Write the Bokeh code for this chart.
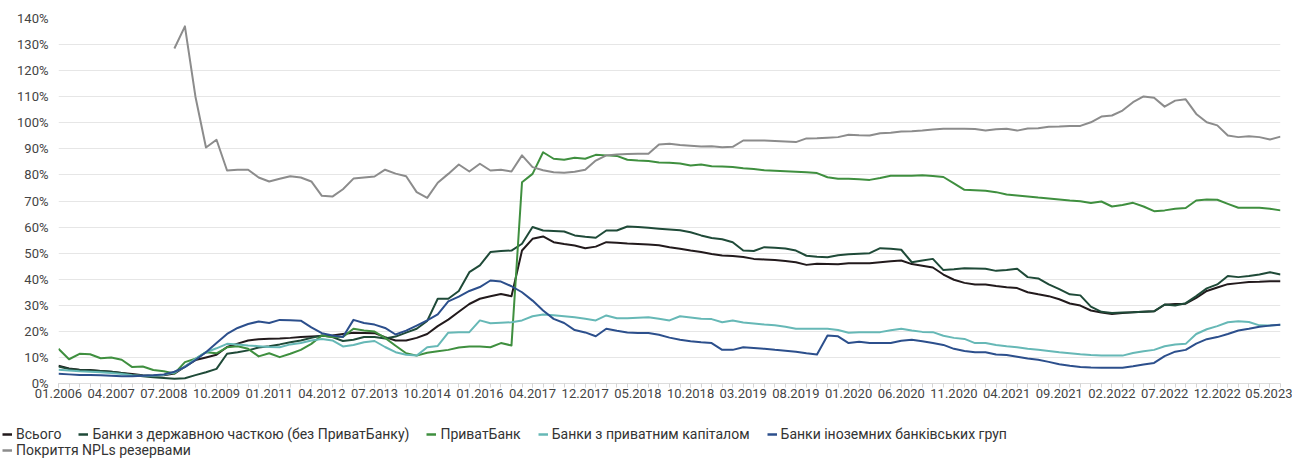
from bokeh.plotting import figure
from bokeh.layouts import column
from bokeh.models import (Range1d, FixedTicker, PrintfTickFormatter, Legend, LegendItem,
                          ColumnDataSource)
from bokeh.embed import file_html
from bokeh.resources import INLINE

# ---- categories (quarterly up to 04.2017, then mixed / monthly from 12.2017) ----
dates = []
for y in range(2006, 2017):
    for m in (1, 4, 7, 10):
        dates.append(f"{m:02d}.{y}")
dates += ["01.2017", "04.2017", "07.2017", "09.2017", "10.2017", "11.2017"]
for y in range(2017, 2024):
    for m in range(1, 13):
        if (y == 2017 and m < 12) or (y == 2023 and m > 6):
            continue
        dates.append(f"{m:02d}.{y}")

tick_labels = ["01.2006", "04.2007", "07.2008", "10.2009", "01.2011", "04.2012", "07.2013",
               "10.2014", "01.2016", "04.2017", "12.2017", "05.2018", "10.2018", "03.2019",
               "08.2019", "01.2020", "06.2020", "11.2020", "04.2021", "09.2021", "02.2022",
               "07.2022", "12.2022", "05.2023"]

# ---- series values (%) ----
total = [6.8, 5.8, 5.3, 5.2, 4.8, 4.5, 4.0, 3.6, 3.2, 3.0, 3.2, 3.8, 6.5, 9.0, 10.0, 11.0,
         14.0, 15.3, 16.5, 17.0, 17.2, 17.3, 17.5, 17.8, 18.0, 18.2, 18.4, 19.0, 19.5, 19.4,
         19.3, 17.8, 16.5, 16.5, 17.5, 19.0, 22.0, 24.5, 27.5, 30.5, 32.5, 33.5, 34.3, 33.5,
         51.0, 55.5, 56.4, 54.2, 53.5, 52.9, 51.9, 52.5, 54.2, 54.0, 53.7, 53.5, 53.3, 53.0,
         52.3, 51.7, 51.0, 50.4, 49.7, 49.1, 48.9, 48.5, 47.8, 47.6, 47.4, 47.0, 46.5, 45.5,
         45.9, 45.8, 45.7, 46.1, 46.1, 46.1, 46.5, 46.9, 47.2, 45.8, 45.2, 44.5, 41.8, 39.8,
         38.6, 38.0, 38.0, 37.4, 36.9, 36.6, 35.0, 34.2, 33.5, 32.3, 30.7, 29.9, 28.0, 27.2,
         26.7, 27.0, 27.3, 27.5, 27.7, 30.2, 30.5, 30.6, 32.8, 35.5, 36.8, 38.1, 38.5, 38.9,
         39.0, 39.2, 39.2]

state = [6.5, 5.6, 5.2, 5.0, 4.8, 4.5, 4.0, 3.3, 2.8, 2.4, 2.1, 1.8, 2.0, 3.2, 4.3, 5.6,
         11.4, 12.0, 12.7, 13.8, 14.3, 15.0, 15.8, 16.5, 17.5, 18.4, 17.8, 16.3, 16.8, 17.8,
         17.8, 17.3, 18.0, 19.5, 21.0, 24.0, 32.5, 32.5, 35.5, 42.7, 45.3, 50.4, 50.8, 51.0,
         53.6, 60.0, 58.7, 58.5, 58.3, 56.8, 56.3, 55.9, 58.7, 58.7, 60.2, 60.0, 59.7, 59.4,
         59.1, 58.8, 58.0, 56.8, 55.8, 55.3, 54.2, 51.0, 50.8, 52.3, 52.1, 51.8, 51.0, 49.0,
         48.6, 48.4, 49.2, 49.6, 49.8, 50.0, 51.9, 51.7, 51.3, 46.5, 47.2, 47.8, 43.5, 43.8,
         44.2, 44.1, 44.0, 43.2, 43.5, 44.0, 40.8, 40.3, 38.0, 36.2, 34.2, 33.8, 29.5, 27.5,
         27.0, 27.2, 27.3, 27.5, 27.7, 30.3, 29.9, 30.8, 33.5, 36.5, 38.0, 41.2, 40.8, 41.2,
         41.8, 42.7, 41.8]

privat = [13.3, 9.3, 11.4, 11.2, 9.7, 10.0, 9.1, 6.3, 6.5, 5.2, 4.7, 3.8, 8.2, 9.5, 12.0, 11.6,
          13.9, 14.3, 13.3, 10.4, 11.6, 10.1, 11.4, 12.9, 15.2, 18.4, 17.8, 17.9, 21.0, 20.3,
          19.9, 17.5, 14.5, 11.6, 10.7, 11.8, 12.4, 12.9, 13.8, 14.2, 14.2, 13.9, 15.5, 14.6,
          77.2, 80.4, 88.7, 86.2, 85.8, 86.6, 86.2, 87.7, 87.5, 87.3, 85.8, 85.5, 85.3, 84.8,
          84.7, 84.4, 83.6, 84.0, 83.3, 83.2, 83.0, 82.6, 82.3, 81.8, 81.6, 81.4, 81.2, 81.0,
          80.7, 79.1, 78.5, 78.5, 78.3, 78.1, 78.8, 79.7, 79.7, 79.7, 79.9, 79.6, 79.2, 76.8,
          74.3, 74.1, 73.9, 73.4, 72.5, 72.1, 71.7, 71.3, 71.0, 70.6, 70.2, 69.9, 69.2, 69.8,
          67.9, 68.5, 69.3, 67.9, 66.1, 66.4, 67.0, 67.3, 70.2, 70.6, 70.5, 68.9, 67.4, 67.4,
          67.4, 67.0, 66.4]

private = [5.3, 5.0, 4.7, 4.5, 4.3, 4.0, 3.6, 3.2, 3.0, 3.0, 3.3, 4.2, 6.5, 9.5, 12.0, 13.5,
           15.2, 15.0, 14.6, 14.3, 14.0, 13.9, 15.0, 15.5, 16.5, 17.1, 16.5, 14.2, 14.8, 15.8,
           16.3, 14.0, 12.0, 11.0, 10.7, 13.9, 14.4, 19.5, 19.7, 19.7, 24.2, 23.1, 23.3, 23.5,
           24.2, 25.8, 26.5, 26.2, 25.8, 25.4, 24.8, 24.2, 26.1, 25.0, 25.0, 25.2, 25.4, 24.8,
           24.2, 25.8, 25.3, 24.8, 24.7, 23.5, 24.2, 23.4, 23.0, 22.6, 22.3, 21.8, 21.0, 21.0,
           21.0, 21.0, 20.5, 19.5, 19.7, 19.7, 19.7, 20.4, 21.0, 20.3, 19.8, 19.7, 18.3, 17.5,
           17.1, 15.5, 15.5, 14.8, 14.3, 13.9, 13.3, 12.9, 12.5, 12.0, 11.6, 11.2, 10.9, 10.7,
           10.7, 10.7, 11.7, 12.4, 12.9, 14.3, 15.0, 15.2, 19.0, 20.8, 22.0, 23.5, 23.9, 23.6,
           22.3, 22.2, 22.5]

foreign = [3.7, 3.5, 3.3, 3.3, 3.2, 3.0, 2.8, 2.8, 3.0, 3.2, 3.5, 4.5, 6.3, 9.0, 12.0, 15.5,
           19.0, 21.3, 22.8, 23.8, 23.2, 24.4, 24.3, 24.1, 21.5, 19.3, 18.4, 17.8, 24.4, 23.2,
           22.6, 21.3, 18.8, 20.3, 22.2, 24.2, 26.5, 31.5, 33.3, 35.5, 37.0, 39.5, 39.1, 37.3,
           35.0, 31.8, 28.0, 24.8, 23.2, 20.5, 19.6, 18.1, 21.0, 20.2, 19.6, 19.4, 19.4, 18.7,
           17.6, 16.8, 16.2, 15.8, 15.5, 12.9, 12.9, 13.9, 13.6, 13.3, 12.9, 12.6, 12.2, 11.6,
           11.1, 18.4, 18.1, 15.5, 16.0, 15.5, 15.5, 15.5, 16.4, 16.8, 16.2, 15.5, 14.8, 13.3,
           12.5, 12.0, 12.0, 11.1, 10.9, 10.3, 9.6, 9.1, 8.3, 7.4, 6.8, 6.3, 6.1, 6.0,
           6.0, 6.0, 6.6, 7.3, 7.9, 10.5, 12.2, 12.9, 15.3, 17.0, 17.8, 19.0, 20.3, 21.0,
           21.8, 22.2, 22.5]

coverage_start = 11
coverage = [128.5, 137.0, 110.0, 90.5, 93.5, 81.7, 82.0, 82.0, 79.0, 77.5, 78.5, 79.5, 79.0,
            77.5, 72.0, 71.7, 74.5, 78.6, 79.0, 79.4, 82.0, 80.5, 79.5, 73.4, 71.2, 77.0,
            80.4, 84.0, 81.3, 84.3, 81.7, 82.0, 81.3, 87.5, 83.0, 81.8, 81.0, 80.8, 81.2,
            82.0, 85.5, 87.5, 87.8, 88.0, 88.1, 88.1, 91.7, 92.0, 91.5, 91.2, 90.9, 91.0,
            90.6, 90.8, 93.2, 93.2, 93.2, 93.0, 92.8, 92.6, 94.0, 94.1, 94.3, 94.5, 95.4,
            95.2, 95.1, 96.0, 96.2, 96.7, 96.8, 97.0, 97.4, 97.7, 97.7, 97.7, 97.6, 97.0,
            97.5, 97.7, 97.0, 97.8, 97.9, 98.5, 98.6, 98.8, 98.8, 100.2, 102.4, 102.8, 104.7,
            107.9, 110.1, 109.6, 106.2, 108.5, 109.0, 103.4, 100.2, 99.0, 95.1, 94.5, 94.8,
            94.5, 93.6, 94.7]

series_names = ["Всього", "Банки з державною часткою (без ПриватБанку)", "ПриватБанк",
                "Банки з приватним капіталом", "Банки іноземних банківських груп",
                "Покриття NPLs резервами"]
colors = ["#221a1c", "#1f4a38", "#3f8f3f", "#66b8b6", "#2c4f8c", "#8c8c8c"]

FONT = "Roboto"

x_all = list(range(len(dates)))
p = figure(width=1292, height=410, output_backend="svg", toolbar_location=None,
           x_range=Range1d(0, len(dates) - 1), y_range=Range1d(0, 140),
           min_border_left=58, min_border_right=12, min_border_top=18, min_border_bottom=27)
p.frame_align = False
p.outline_line_color = None
p.background_fill_color = "white"
p.border_fill_color = "white"

for vals, c in zip([total, state, privat, private, foreign], colors[:5]):
    src = ColumnDataSource(dict(x=x_all[:len(vals)], y=vals))
    p.line("x", "y", source=src, line_color=c, line_width=2, line_join="round")
src = ColumnDataSource(dict(x=x_all[coverage_start:coverage_start + len(coverage)], y=coverage))
p.line("x", "y", source=src, line_color=colors[5], line_width=2, line_join="round")

# axes
major = list(range(0, len(dates), 5))
p.xaxis.ticker = FixedTicker(ticks=major, minor_ticks=x_all)
p.xaxis.major_label_overrides = {i: lab for i, lab in zip(major, tick_labels)}
p.xaxis.axis_line_color = "#dddddd"
p.xaxis.major_tick_line_color = "#d5d5d5"
p.xaxis.minor_tick_line_color = "#d5d5d5"
p.xaxis.major_tick_in = 0
p.xaxis.major_tick_out = 4
p.xaxis.minor_tick_in = 0
p.xaxis.minor_tick_out = 4
p.xaxis.major_label_standoff = 1
p.xaxis.major_label_text_font = FONT
p.xaxis.major_label_text_font_size = "13px"
p.xaxis.major_label_text_color = "#444444"

p.yaxis.ticker = FixedTicker(ticks=list(range(0, 141, 10)))
p.yaxis.formatter = PrintfTickFormatter(format="%d%%")
p.yaxis.axis_line_color = None
p.yaxis.major_tick_line_color = None
p.yaxis.minor_tick_line_color = None
p.yaxis.major_label_standoff = 4
p.yaxis.major_label_text_font = FONT
p.yaxis.major_label_text_font_size = "13px"
p.yaxis.major_label_text_color = "#444444"

p.xgrid.grid_line_color = None
p.ygrid.grid_line_color = "#e6e6e6"
p.ygrid.ticker = FixedTicker(ticks=list(range(0, 141, 10)))

# ---- legend strip below the chart ----
lg = figure(width=1292, height=49, output_backend="svg", toolbar_location=None,
            x_axis_location=None, y_axis_location=None,
            x_range=Range1d(0, 1), y_range=Range1d(0, 1),
            min_border_left=0, min_border_right=0, min_border_top=0, min_border_bottom=0)
lg.frame_align = False
lg.outline_line_color = None
lg.xgrid.grid_line_color = None
lg.ygrid.grid_line_color = None
lg.background_fill_color = "white"
lg.border_fill_color = "white"

# off-screen carriers for the legend swatches
dummies = [lg.line(x=[-2, -1], y=[-2, -1], line_color=c, line_width=2.5) for c in colors]

def make_legend(items, loc):
    return Legend(items=items, location=loc, orientation="horizontal",
                  glyph_width=10, glyph_height=16, label_standoff=4, spacing=17,
                  padding=0, margin=0, border_line_color=None, background_fill_alpha=0,
                  label_text_font=FONT, label_text_font_size="14px",
                  label_text_color="#333333", label_height=16)

items1 = [LegendItem(label=n, renderers=[r]) for n, r in zip(series_names[:5], dummies[:5])]
items2 = [LegendItem(label=series_names[5], renderers=[dummies[5]])]
lg.add_layout(make_legend(items1, (2, 17)), "center")
lg.add_layout(make_legend(items2, (2, 1)), "center")

open("out.html", "w").write(file_html(column(p, lg, spacing=0), INLINE))
